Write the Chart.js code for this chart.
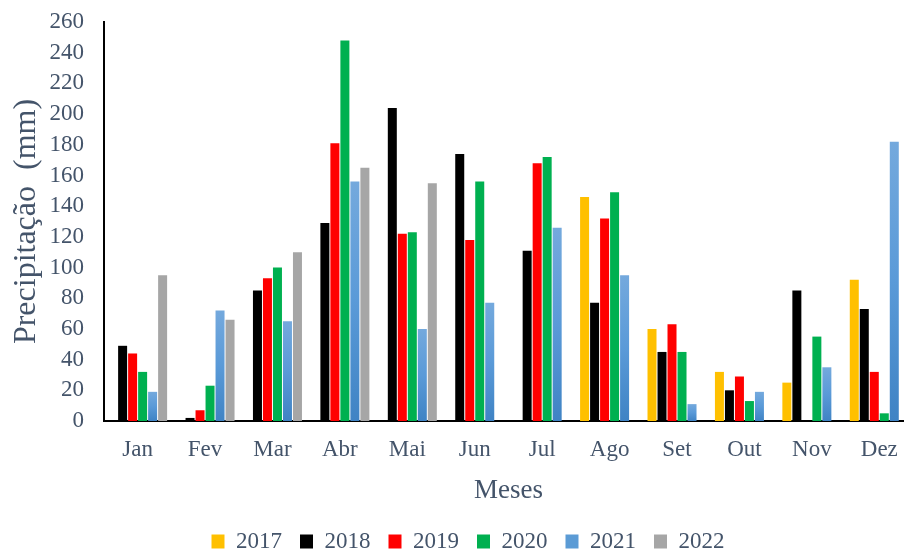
<!DOCTYPE html>
<html>
<head>
<meta charset="utf-8">
<title>Precipitação mensal 2017-2022</title>
<script src="https://cdn.jsdelivr.net/npm/chart.js@4.4.0/dist/chart.umd.min.js"></script>
<style>
  html, body { margin: 0; padding: 0; overflow: hidden; background: #fff; }
</style>
</head>
<body>
<canvas id="chart" width="916" height="551"></canvas>
<script>
// Monthly rainfall (mm)
const months = ['Jan', 'Fev', 'Mar', 'Abr', 'Mai', 'Jun', 'Jul', 'Ago', 'Set', 'Out', 'Nov', 'Dez'];
const years = ['2017', '2018', '2019', '2020', '2021', '2022'];

const rain2017 = [null, null, null, null, null, null, null, 146, 60, 32, 25, 92];
const rain2018 = [49, 2, 85, 129, 204, 174, 111, 77, 45, 20, 85, 73];
const rain2019 = [44, 7, 93, 181, 122, 118, 168, 132, 63, 29, null, 32];
const rain2020 = [32, 23, 100, 248, 123, 156, 172, 149, 45, 13, 55, 5];
const rain2021 = [19, 72, 65, 156, 60, 77, 126, 95, 11, 19, 35, 182];
const rain2022 = [95, 66, 110, 165, 155, null, null, null, null, null, null, null];

const yTicks = [0, 20, 40, 60, 80, 100, 120, 140, 160, 180, 200, 220, 240, 260];

const textColor = '#44546A';
const serif = "'Liberation Serif', 'Times New Roman', serif";

// 2021 bars use a light-to-dark blue gradient per bar, like the Excel original
function blueGradient(ctx) {
  const chart = ctx.chart;
  if (!chart.chartArea || ctx.parsed == null || ctx.parsed.y == null) return '#5B9BD5';
  const y = chart.scales.y;
  const top = y.getPixelForValue(ctx.parsed.y);
  const bottom = y.getPixelForValue(0);
  const g = chart.ctx.createLinearGradient(0, top, 0, bottom);
  g.addColorStop(0, '#74A9DD');
  g.addColorStop(0.5, '#5A9AD8');
  g.addColorStop(1, '#3F83C4');
  return g;
}

const series = [rain2017, rain2018, rain2019, rain2020, rain2021, rain2022];
const colors = ['#FFC000', '#000000', '#FF0000', '#00B050', blueGradient, '#A6A6A6'];
const legendColors = ['#FFC000', '#000000', '#FF0000', '#00B050', '#5B9BD5', '#A6A6A6'];

const datasets = years.map((yr, i) => ({
  label: yr,
  data: series[i],
  backgroundColor: colors[i],
  borderWidth: 0,
  categoryPercentage: 0.89,
  barPercentage: 0.9
}));

// nudge the legend a little to the right, as in the original
const legendNudge = {
  id: 'legendNudge',
  afterLayout(chart) {
    chart.legend.left += 8;
    chart.legend.right += 8;
  }
};

new Chart(document.getElementById('chart'), {
  type: 'bar',
  data: { labels: months, datasets: datasets },
  plugins: [legendNudge],
  options: {
    responsive: false,
    animation: false,
    layout: { padding: { left: 7, right: 3, top: 22, bottom: -12 } },
    plugins: {
      tooltip: { enabled: false },
      legend: {
        position: 'bottom',
        labels: {
          color: textColor,
          font: { family: serif, size: 23 },
          boxWidth: 13,
          boxHeight: 14,
          padding: 18,
          generateLabels: (chart) => years.map((yr, i) => ({
            text: yr,
            fillStyle: legendColors[i],
            strokeStyle: legendColors[i],
            lineWidth: 0,
            fontColor: textColor,
            datasetIndex: i,
            hidden: false
          }))
        }
      }
    },
    scales: {
      x: {
        // tick marks are hidden with the grid; tickLength only sets the label gap
        grid: { display: false, drawTicks: true, tickLength: 15 },
        border: { display: true, color: '#000', width: 2 },
        ticks: { color: textColor, font: { family: serif, size: 23 }, padding: 0, maxRotation: 0 },
        title: {
          display: true,
          text: 'Meses',
          color: textColor,
          font: { family: serif, size: 27 },
          padding: { top: 11, bottom: 5 }
        }
      },
      y: {
        min: 0,
        max: 260,
        afterBuildTicks: (axis) => { axis.ticks = yTicks.map(v => ({ value: v })); },
        grid: { display: false, drawTicks: true, tickLength: 20 },
        border: { display: true, color: '#000', width: 2 },
        ticks: { color: textColor, font: { family: serif, size: 23 }, padding: 0, autoSkip: false },
        title: {
          display: true,
          text: 'Precipitação  (mm)',
          color: textColor,
          font: { family: serif, size: 32 },
          padding: { top: 0, bottom: 4 }
        }
      }
    }
  }
});
</script>
</body>
</html>
